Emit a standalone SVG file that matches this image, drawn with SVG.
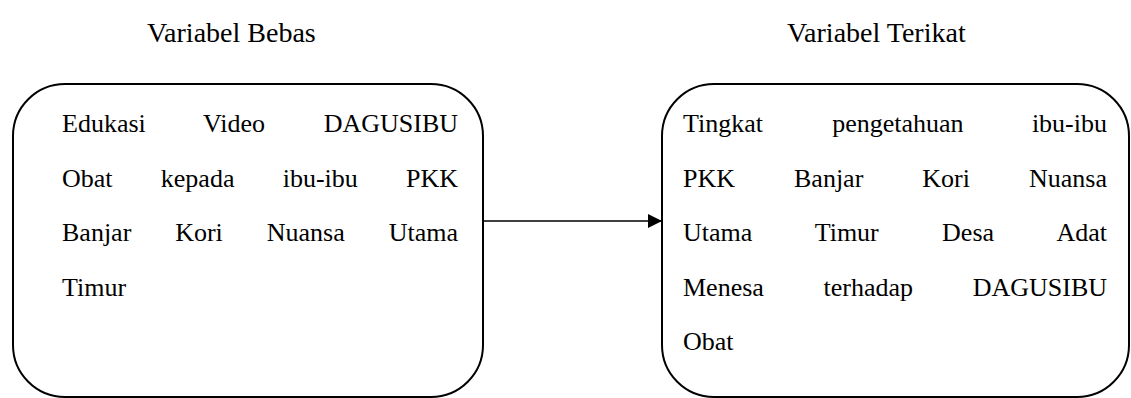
<svg xmlns="http://www.w3.org/2000/svg" width="1131" height="398" viewBox="0 0 1131 398">
  <style>
    .box { fill: #ffffff; stroke: #000000; stroke-width: 2; }
    .txt { font-family: "Liberation Serif", "Times New Roman", serif; font-size: 26px; fill: #000000; }
    .head { font-size: 28px; }
    .end { text-anchor: end; }
    .link { stroke: #000000; stroke-width: 1.4; fill: none; }
  </style>
  <defs>
    <marker id="arrowhead" viewBox="0 0 10 10" refX="10" refY="5" markerUnits="userSpaceOnUse" markerWidth="15" markerHeight="14" orient="auto">
      <path d="M0,0 L10,5 L0,10 Z" fill="#000000"/>
    </marker>
  </defs>
  <rect width="1131" height="398" fill="#ffffff"/>

  <!-- column headings -->
  <text class="txt head" x="147" y="42">Variabel Bebas</text>
  <text class="txt head" x="787" y="42">Variabel Terikat</text>

  <!-- independent variable -->
  <g id="node-bebas">
    <rect class="box" x="13" y="84" width="470" height="313" rx="52" ry="52"/>
    <text class="txt" y="132"><tspan x="62">Edukasi</tspan><tspan x="203">Video</tspan></text>
    <text class="txt end" x="458" y="132">DAGUSIBU</text>
    <text class="txt" y="186.5"><tspan x="62">Obat</tspan><tspan x="160.8">kepada</tspan><tspan x="282.7">ibu-ibu</tspan></text>
    <text class="txt end" x="458" y="186.5">PKK</text>
    <text class="txt" y="241"><tspan x="62">Banjar</tspan><tspan x="175.2">Kori</tspan><tspan x="266.8">Nuansa</tspan></text>
    <text class="txt end" x="458" y="241">Utama</text>
    <text class="txt" x="62" y="295.5">Timur</text>
  </g>

  <!-- dependent variable -->
  <g id="node-terikat">
    <rect class="box" x="662" y="84" width="467" height="313" rx="52" ry="52"/>
    <text class="txt" y="132"><tspan x="683">Tingkat</tspan><tspan x="832.2">pengetahuan</tspan></text>
    <text class="txt end" x="1107" y="132">ibu-ibu</text>
    <text class="txt" y="186.5"><tspan x="683">PKK</tspan><tspan x="794">Banjar</tspan><tspan x="922.3">Kori</tspan></text>
    <text class="txt end" x="1107" y="186.5">Nuansa</text>
    <text class="txt" y="241"><tspan x="683">Utama</tspan><tspan x="814.7">Timur</tspan><tspan x="942.1">Desa</tspan></text>
    <text class="txt end" x="1107" y="241">Adat</text>
    <text class="txt" y="295.5"><tspan x="683">Menesa</tspan><tspan x="823.5">terhadap</tspan></text>
    <text class="txt end" x="1107" y="295.5">DAGUSIBU</text>
    <text class="txt" x="683" y="350">Obat</text>
  </g>

  <!-- connectors -->
  <g id="connectors">
    <line class="link" x1="483" y1="221" x2="662" y2="221" marker-end="url(#arrowhead)"/>
  </g>
</svg>
